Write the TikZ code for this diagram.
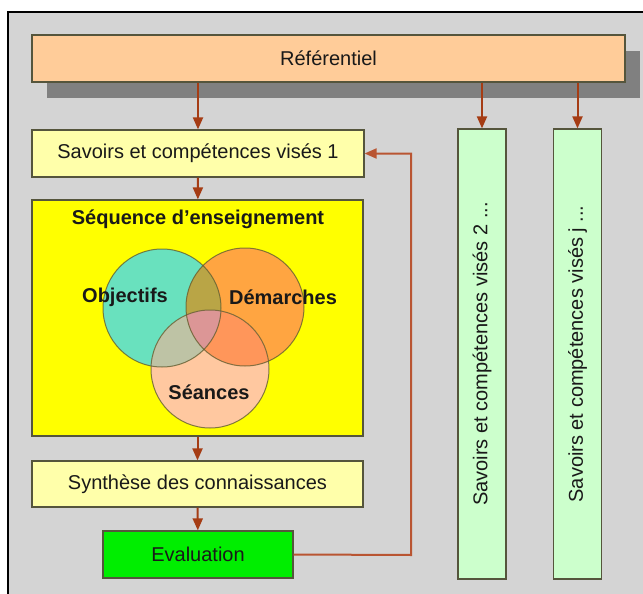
\documentclass[tikz,border=0pt]{standalone}
\usepackage{fontspec}
\setmainfont{Liberation Sans}
\usetikzlibrary{arrows.meta,shadows}
\definecolor{bggray}{RGB}{212,212,212}
\definecolor{shadowgray}{RGB}{128,128,128}
\definecolor{refc}{RGB}{255,204,153}
\definecolor{lighty}{RGB}{255,255,170}
\definecolor{seqc}{RGB}{255,255,0}
\definecolor{evalc}{RGB}{0,238,0}
\definecolor{barc}{RGB}{204,255,204}
\definecolor{arrc}{RGB}{165,60,20}
\definecolor{fbc}{RGB}{185,85,50}
\definecolor{boxline}{RGB}{85,85,60}
\definecolor{txt}{RGB}{25,25,25}
\definecolor{objc}{RGB}{105,225,190}
\definecolor{demc}{RGB}{255,165,65}
\definecolor{seac}{RGB}{255,200,160}
\definecolor{odc}{RGB}{185,165,70}
\definecolor{osc}{RGB}{190,195,165}
\definecolor{dsc}{RGB}{255,150,90}
\definecolor{odsc}{RGB}{220,150,150}
\definecolor{circline}{RGB}{100,95,50}
\begin{document}
\begin{tikzpicture}[x=1pt,y=-1pt,
  box/.style={draw=boxline,line width=1.2pt,inner sep=0pt,text=txt,
    font=\fontsize{20}{24}\selectfont},
  bar/.style={box,fill=barc,rotate=90,minimum width=450pt,minimum height=48pt},
  arr/.style={draw=arrc,line width=2pt,-{Triangle[length=12pt,width=10pt]}},
  fb/.style={draw=fbc,line width=2pt,-{Triangle[length=12pt,width=10pt]},color=fbc},
  lbl/.style={inner sep=0pt,text=txt,font=\fontsize{20}{24}\selectfont\bfseries},
  cline/.style={draw=circline,line width=1pt,draw opacity=0.8}]
\useasboundingbox (0,0) rectangle (643,594);
\clip (0,0) rectangle (643,594);
\fill[white] (0,0) rectangle (643,594);
\draw[fill=bggray,line width=1.5pt] (8,12) rectangle (680,640);

\node[box,fill=refc,minimum width=593pt,minimum height=47pt,
  drop shadow={shadow xshift=15pt,shadow yshift=-16pt,fill=shadowgray,opacity=1}]
  (ref) at (328.5,58.5) {Référentiel};

\node[box,fill=lighty,minimum width=332pt,minimum height=47pt] (sav1) at (198,153.5) {Savoirs et compétences visés 1};
\node[box,fill=seqc,minimum width=331pt,minimum height=236pt] (seq) at (197.5,318) {};
\node[lbl] (seqt) at (198,219) {Séquence d’enseignement};
\node[box,fill=lighty,minimum width=331pt,minimum height=46pt] (syn) at (197.5,484) {Synthèse des connaissances};
\node[box,fill=evalc,minimum width=190pt,minimum height=47pt] (eval) at (198,554.5) {Evaluation};

\node[bar] (sav2) at (482,354) {Savoirs et compétences visés 2 ...};
\node[bar] (savj) at (577.5,354) {Savoirs et compétences visés j ...};

% Venn diagram
\coordinate (co) at (162,308);
\coordinate (cd) at (245,307);
\coordinate (cs) at (210,369);
\fill[objc] (co) circle (59pt);
\fill[demc] (cd) circle (59pt);
\fill[seac] (cs) circle (59pt);
\begin{scope}
  \clip (co) circle (59pt);
  \fill[odc] (cd) circle (59pt);
  \fill[osc] (cs) circle (59pt);
\end{scope}
\begin{scope}
  \clip (cd) circle (59pt);
  \fill[dsc] (cs) circle (59pt);
\end{scope}
\begin{scope}
  \clip (co) circle (59pt);
  \clip (cd) circle (59pt);
  \fill[odsc] (cs) circle (59pt);
\end{scope}
\draw[cline] (co) circle (59pt);
\draw[cline] (cd) circle (59pt);
\draw[cline] (cs) circle (59pt);
\node[lbl] (lobj) at (125,297) {Objectifs};
\node[lbl] (ldem) at (283,297) {Démarches};
\node[lbl] (lsea) at (209,392) {Séances};

% connectors
\draw[arr] (ref.south -| sav1.north) -- (sav1.north);
\draw[arr] (ref.south -| sav2.east) -- (sav2.east);
\draw[arr] (ref.south -| savj.east) -- (savj.east);
\draw[arr] (sav1) -- (seq);
\draw[arr] (seq) -- (syn);
\draw[arr] (syn) -- (eval);
\coordinate (fbturn) at (411,555);
\draw[fb] (eval.east) -- (fbturn) |- (sav1.east);
\end{tikzpicture}
\end{document}
